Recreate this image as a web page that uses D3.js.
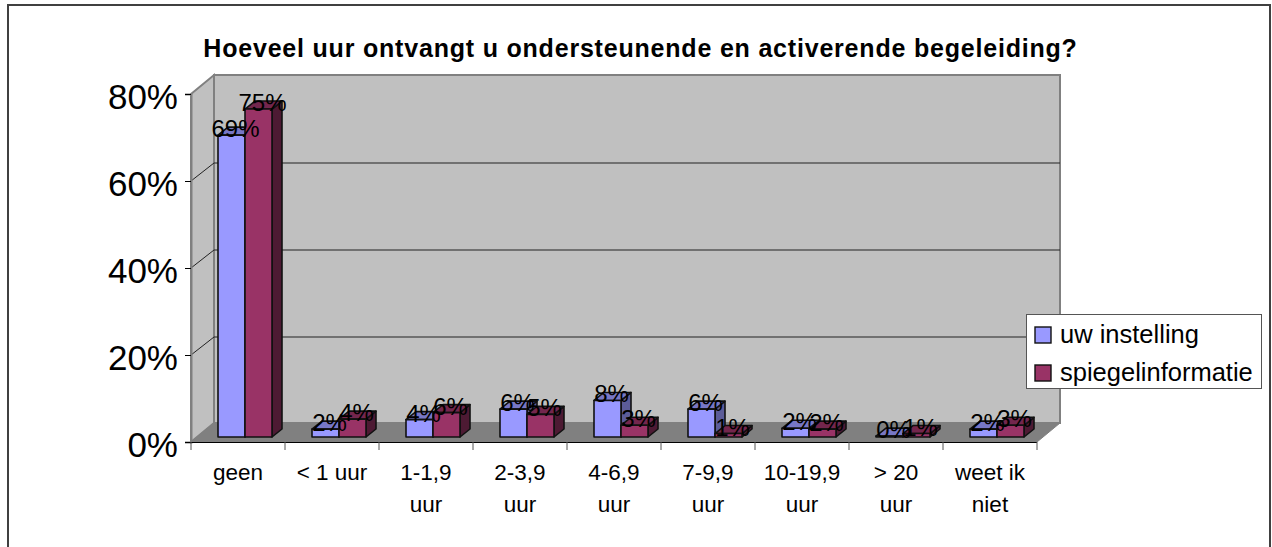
<!DOCTYPE html>
<html>
<head>
<meta charset="utf-8">
<script src="https://cdn.jsdelivr.net/npm/d3@7"></script>
<style>
  html, body { margin: 0; padding: 0; background: #fff; }
  svg { display: block; }
  text { font-family: "Liberation Sans", Arial, sans-serif; fill: #000; }
</style>
</head>
<body>
<svg id="chart" width="1272" height="547"></svg>
<script>
const title = "Hoeveel uur ontvangt u ondersteunende en activerende begeleiding?";
const categories = ["geen", "< 1 uur", "1-1,9 uur", "2-3,9 uur", "4-6,9 uur", "7-9,9 uur", "10-19,9 uur", "> 20 uur", "weet ik niet"];
const uwInstelling = [69.4, 1.8, 4, 6.4, 8.4, 6.4, 2, 0.2, 1.8];
const spiegelinformatie = [75.4, 4.1, 5.6, 5.2, 2.7, 0.8, 1.8, 0.8, 2.7];
const seriesNames = ["uw instelling", "spiegelinformatie"];
const yTicks = [0, 20, 40, 60, 80];

const svg = d3.select("#chart");

const depth = {x: 23, y: -19};        // wall offset from the front of the floor
const gridDepthY = -18;
const barDepth = {x: 10, y: -8};
const barLift = 5;                    // bars stand a bit back on the floor

const x = d3.scaleBand().domain(categories).range([191, 1037]);
const y = d3.scaleLinear().domain([0, 80]).range([442, 94]);
const inner = d3.scaleBand().domain(seriesNames).range([27, 81]);

const fills = {
    "uw instelling": {front: "#9999ff", top: "#7777c6", side: "#5c5c99"},
    "spiegelinformatie": {front: "#993366", top: "#73264d", side: "#4d1a33"}
};

// chart frame, the bottom edge is cut off in the picture
svg.append("path")
   .attr("d", "M8,547V5H1270V547")
   .attr("fill", "none")
   .attr("stroke", "#404040")
   .attr("stroke-width", 2);

const line = d3.line();
const [x0, x1] = x.range();

// back wall and side wall
svg.append("path")
   .attr("d", line([[x0 + depth.x, y(80) + depth.y], [x1 + depth.x, y(80) + depth.y], [x1 + depth.x, y(0) + depth.y], [x0 + depth.x, y(0) + depth.y]]) + "Z")
   .attr("fill", "#c0c0c0")
   .attr("stroke", "#808080")
   .attr("stroke-width", 2);
svg.append("path")
   .attr("d", line([[x0, y(80)], [x0 + depth.x, y(80) + depth.y], [x0 + depth.x, y(0) + depth.y], [x0, y(0)]]) + "Z")
   .attr("fill", "#c0c0c0")
   .attr("stroke", "#808080")
   .attr("stroke-width", 2);

// floor
svg.append("path")
   .attr("d", line([[x0, y(0)], [x0 + depth.x, y(0) + depth.y], [x1 + depth.x, y(0) + depth.y], [x1, y(0)]]) + "Z")
   .attr("fill", "#808080")
   .attr("stroke", "#808080");

// gridlines
svg.append("g").selectAll("path")
   .data(yTicks.filter(d => d > 0 && d < 80))
   .join("path")
   .attr("d", d => line([[x0, y(d)], [x0 + depth.x, y(d) + gridDepthY], [x1 + depth.x, y(d) + gridDepthY]]))
   .attr("fill", "none")
   .attr("stroke", "#222")
   .attr("stroke-width", 1);

// axes
const yAxis = svg.append("g")
   .attr("transform", `translate(${x0},0)`)
   .call(d3.axisLeft(y).tickValues(yTicks).tickFormat(d => d + "%").tickSize(6).tickPadding(7));
yAxis.select(".domain").attr("stroke", "#808080").attr("stroke-width", 2);
yAxis.selectAll("text").style("font-size", "35px").attr("dy", "0.41em");
yAxis.selectAll("line").attr("stroke", "#000");

svg.append("line")
   .attr("x1", x0 - 6).attr("x2", x1)
   .attr("y1", y(0) + 0.5).attr("y2", y(0) + 0.5)
   .attr("stroke", "#000");

svg.append("g").selectAll("line")
   .data(d3.range(categories.length + 1))
   .join("line")
   .attr("x1", i => x0 + i * x.step()).attr("x2", i => x0 + i * x.step())
   .attr("y1", y(0)).attr("y2", y(0) + 8)
   .attr("stroke", "#555");

// bars, back to front so the red side never sits over the next group
const groups = svg.append("g").selectAll("g")
   .data(categories)
   .join("g")
   .attr("transform", d => `translate(${x(d)},0)`);

const barData = (c, i) => [
    {name: seriesNames[0], value: uwInstelling[i]},
    {name: seriesNames[1], value: spiegelinformatie[i]}
];

groups.each(function (c, i) {
    const g = d3.select(this);
    barData(c, i).forEach(b => {
        const l = inner(b.name), r = l + inner.bandwidth();
        const base = y(0) - barLift, top = y(b.value) - barLift;
        const f = fills[b.name];
        const bar = g.append("g")
                     .attr("stroke", "#111")
                     .attr("stroke-width", 1.6)
                     .attr("stroke-linejoin", "round");
        bar.append("path")
           .attr("d", line([[r, top], [r + barDepth.x, top + barDepth.y], [r + barDepth.x, base + barDepth.y], [r, base]]) + "Z")
           .attr("fill", f.side);
        bar.append("path")
           .attr("d", line([[l, top], [l + barDepth.x, top + barDepth.y], [r + barDepth.x, top + barDepth.y], [r, top]]) + "Z")
           .attr("fill", f.top);
        bar.append("rect")
           .attr("x", l).attr("y", top)
           .attr("width", r - l).attr("height", base - top)
           .attr("fill", f.front);
    });
});

// data labels go on top of everything
groups.each(function (c, i) {
    const g = d3.select(this);
    barData(c, i).forEach(b => {
        g.append("text")
         .attr("x", inner(b.name) + inner.bandwidth() / 2 + 4)
         .attr("y", y(b.value) - barLift + 2)
         .attr("text-anchor", "middle")
         .style("font-size", "24px")
         .text(Math.round(b.value) + "%");
    });
});

// category labels wrap at the last space when too long
const wrapped = {
    "1-1,9 uur": ["1-1,9", "uur"], "2-3,9 uur": ["2-3,9", "uur"], "4-6,9 uur": ["4-6,9", "uur"],
    "7-9,9 uur": ["7-9,9", "uur"], "10-19,9 uur": ["10-19,9", "uur"], "> 20 uur": ["> 20", "uur"],
    "weet ik niet": ["weet ik", "niet"]
};
const catLabels = svg.append("g").selectAll("text")
   .data(categories)
   .join("text")
   .attr("text-anchor", "middle")
   .style("font-size", "22.5px");
catLabels.each(function (c) {
    const lines = wrapped[c] || [c];
    d3.select(this).selectAll("tspan")
      .data(lines)
      .join("tspan")
      .attr("x", x(c) + x.bandwidth() / 2)
      .attr("y", (d, i) => 480 + i * 32)
      .text(d => d);
});

// title
svg.append("text")
   .attr("x", 640.5)
   .attr("y", 57)
   .attr("text-anchor", "middle")
   .style("font-size", "25px")
   .style("font-weight", "bold")
   .style("letter-spacing", "0.8px")
   .text(title);

// legend
const legend = svg.append("g");
legend.append("rect")
      .attr("x", 1026.5).attr("y", 314.5)
      .attr("width", 235).attr("height", 74)
      .attr("fill", "#fff")
      .attr("stroke", "#555")
      .attr("stroke-width", 1);
const legendRow = d3.scalePoint().domain(seriesNames).range([335, 373]);
seriesNames.forEach(name => {
    legend.append("rect")
          .attr("x", 1035).attr("y", legendRow(name) - 8)
          .attr("width", 16).attr("height", 16)
          .attr("fill", fills[name].front)
          .attr("stroke", "#111")
          .attr("stroke-width", 1.4);
    legend.append("text")
          .attr("x", 1060).attr("y", legendRow(name) + 8)
          .style("font-size", "25.5px")
          .text(name);
});
</script>
</body>
</html>
